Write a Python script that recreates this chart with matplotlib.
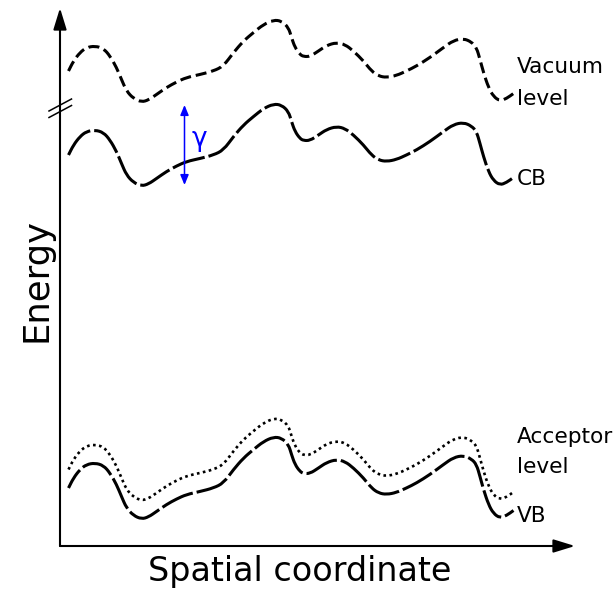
import matplotlib.pyplot as plt
import numpy as np
from matplotlib.path import Path
from matplotlib.patches import PathPatch

# band-edge profile along the sample (arbitrary units)
position = [0.17, 0.27, 0.40, 0.53, 0.70, 0.87, 1.00, 1.13, 1.23, 1.33,
            1.47, 1.63, 1.77, 1.93, 2.13, 2.33, 2.53, 2.80, 3.07, 3.27,
            3.47, 3.67, 3.87, 4.07, 4.27, 4.43, 4.57, 4.63, 4.70, 4.80,
            4.87, 5.00, 5.17, 5.33, 5.53, 5.70, 5.87, 6.07, 6.23, 6.37,
            6.53, 6.73, 6.93, 7.13, 7.40, 7.67, 7.87, 8.07, 8.23, 8.33,
            8.40, 8.47, 8.57, 8.67, 8.80, 8.93, 9.07]
cb = [7.82, 8.02, 8.19, 8.29, 8.32, 8.27, 8.12, 7.89, 7.65, 7.42,
      7.27, 7.20, 7.24, 7.35, 7.49, 7.60, 7.69, 7.75, 7.82, 7.92,
      8.19, 8.42, 8.59, 8.75, 8.84, 8.82, 8.69, 8.49, 8.29, 8.15,
      8.11, 8.11, 8.22, 8.33, 8.39, 8.35, 8.22, 8.02, 7.82, 7.72,
      7.69, 7.73, 7.82, 7.92, 8.09, 8.29, 8.43, 8.47, 8.40, 8.29,
      8.05, 7.79, 7.49, 7.31, 7.22, 7.27, 7.37]

vacuum_shift = 1.68
vb_shift = -6.66
acceptor_shift = 0.37

gamma_x = 2.49
gamma_range = (7.22, 8.82)
axis_break = 8.75

x = np.array(position)
cb = np.array(cb)
vacuum = cb + vacuum_shift
vb = cb + vb_shift
acceptor = vb + acceptor_shift


def smooth_curve(xs, ys, **kw):
    # quadratic bezier through the midpoints, sample points as control points
    pts = np.column_stack([xs, ys])
    mids = (pts[:-1] + pts[1:]) / 2
    verts = [pts[0], mids[0]]
    codes = [Path.MOVETO, Path.LINETO]
    for i in range(1, len(pts) - 1):
        verts += [pts[i], mids[i]]
        codes += [Path.CURVE3, Path.CURVE3]
    verts.append(pts[-1])
    codes.append(Path.LINETO)
    return PathPatch(Path(verts, codes), fill=False, **kw)


fig = plt.figure(figsize=(6.16, 5.93), dpi=100)
ax = fig.add_axes([60 / 616, 47 / 593, 515 / 616, 538 / 593])
ax.set_xlim(0, 10.3)
ax.set_ylim(0, 10.76)
ax.axis('off')

lw = 2.2
ax.add_patch(smooth_curve(x, vacuum, edgecolor='black', lw=lw,
                          linestyle=(0, (3.6, 1.6))))
ax.add_patch(smooth_curve(x, cb, edgecolor='black', lw=lw,
                          linestyle=(0, (11, 1.3))))
ax.add_patch(smooth_curve(x, acceptor, edgecolor='black', lw=1.9,
                          linestyle=(0, (1.0, 1.3))))
ax.add_patch(smooth_curve(x, vb, edgecolor='black', lw=lw,
                          linestyle=(4, (11, 1.3))))

# axes drawn as arrows
arrow = dict(arrowstyle='-|>,head_length=1.3,head_width=0.4', color='black',
             lw=1.5, shrinkA=0, shrinkB=0, mutation_scale=10)
ax.annotate('', xy=(0, 1), xytext=(0, 0), xycoords='axes fraction',
            arrowprops=arrow)
ax.annotate('', xy=(1, 0), xytext=(0, 0), xycoords='axes fraction',
            arrowprops=arrow)

# break marks on the energy axis
for dy in (0.0, -0.13):
    ax.plot([-0.22, 0.23], [axis_break - 0.05 + dy, axis_break + 0.19 + dy],
            color='black', lw=1.1, clip_on=False)

# gamma double arrow
ax.annotate('', xy=(gamma_x, gamma_range[1]), xytext=(gamma_x, gamma_range[0]),
            arrowprops=dict(arrowstyle='<|-|>,head_length=0.6,head_width=0.25',
                            color='blue', lw=1.1, shrinkA=0, shrinkB=0,
                            mutation_scale=10))
ax.text(gamma_x + 0.3, 8.14, 'γ', color='blue', fontsize=19,
        ha='center', va='center')

fs = 15.6
ax.text(9.14, 9.46, 'Vacuum', fontsize=fs, va='baseline')
ax.text(9.14, 8.82, 'level', fontsize=fs, va='baseline')
ax.text(9.14, 7.22, 'CB', fontsize=fs, va='baseline')
ax.text(9.14, 2.06, 'Acceptor', fontsize=fs, va='baseline')
ax.text(9.14, 1.46, 'level', fontsize=fs, va='baseline')
ax.text(9.13, 0.48, 'VB', fontsize=fs, va='baseline')

ax.text(4.8, -0.69, 'Spatial coordinate', fontsize=24,
        ha='center', va='baseline')
ax.text(-0.27, 5.31, 'Energy', fontsize=25.5, rotation=90,
        rotation_mode='anchor', ha='center', va='baseline')

fig.savefig('out.png', dpi=100)
